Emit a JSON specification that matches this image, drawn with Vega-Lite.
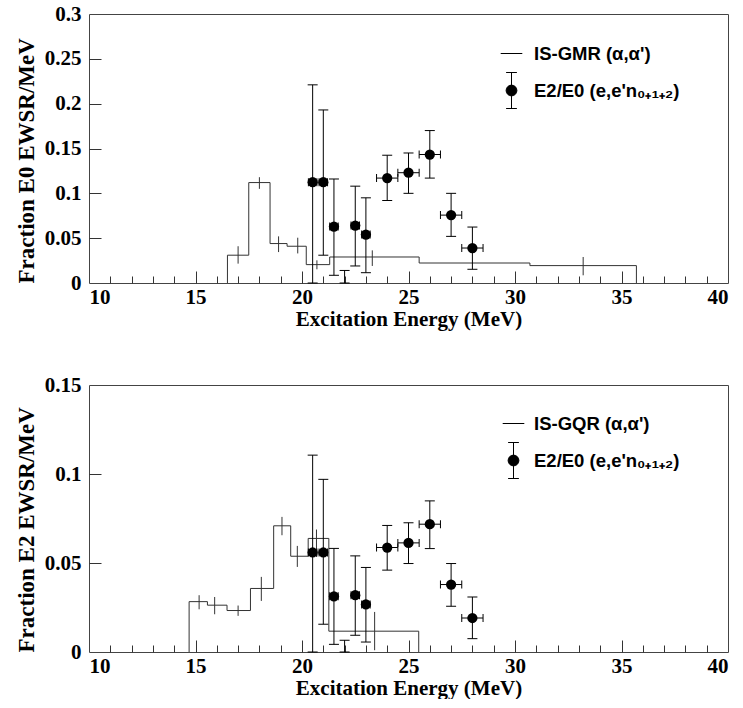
{
  "$schema": "https://vega.github.io/schema/vega-lite/v6.json",
  "autosize": {"type": "pad"},
  "padding": {"left": 14, "top": 2, "right": 0, "bottom": 0},
  "background": "white",
  "datasets": {
    "gmr_hist": [
      {"i": 0, "E": 16.5, "v": 0},
      {"i": 1, "E": 16.5, "v": 0.031},
      {"i": 2, "E": 17.5, "v": 0.112},
      {"i": 3, "E": 18.5, "v": 0.044},
      {"i": 4, "E": 19.3, "v": 0.041},
      {"i": 5, "E": 20.2, "v": 0.0205},
      {"i": 6, "E": 21.3, "v": 0.029},
      {"i": 7, "E": 25.5, "v": 0.0223},
      {"i": 8, "E": 30.7, "v": 0.0194},
      {"i": 9, "E": 35.7, "v": 0}
    ],
    "gmr_err": [
      {"E": 17.0, "lo": 0.0216, "hi": 0.041},
      {"E": 18.0, "lo": 0.105, "hi": 0.118},
      {"E": 18.9, "lo": 0.0345, "hi": 0.052},
      {"E": 19.8, "lo": 0.033, "hi": 0.0505},
      {"E": 20.7, "lo": 0.0153, "hi": 0.0253},
      {"E": 23.3, "lo": 0.019, "hi": 0.0364},
      {"E": 33.2, "lo": 0.0086, "hi": 0.029}
    ],
    "gmr_pts": [
      {"E": 20.5, "v": 0.1125, "lo": 0, "hi": 0.221, "xlo": 20.3, "xhi": 20.7},
      {"E": 21.0, "v": 0.1125, "lo": 0.031, "hi": 0.193, "xlo": 20.8, "xhi": 21.2},
      {"E": 21.5, "v": 0.063, "lo": 0.0086, "hi": 0.116, "xlo": 21.3, "xhi": 21.7},
      {"E": 22.0, "v": null, "lo": 0, "hi": 0.014, "xlo": null, "xhi": null},
      {"E": 22.5, "v": 0.064, "lo": 0.019, "hi": 0.108, "xlo": 22.3, "xhi": 22.7},
      {"E": 23.0, "v": 0.054, "lo": 0.0115, "hi": 0.095, "xlo": 22.8, "xhi": 23.2},
      {"E": 24.0, "v": 0.117, "lo": 0.092, "hi": 0.1425, "xlo": 23.5, "xhi": 24.5},
      {"E": 25.0, "v": 0.123, "lo": 0.1, "hi": 0.145, "xlo": 24.5, "xhi": 25.5},
      {"E": 26.0, "v": 0.1433, "lo": 0.117, "hi": 0.17, "xlo": 25.5, "xhi": 26.5},
      {"E": 27.0, "v": 0.0757, "lo": 0.052, "hi": 0.1, "xlo": 26.5, "xhi": 27.5},
      {"E": 28.0, "v": 0.039, "lo": 0.0153, "hi": 0.0624, "xlo": 27.5, "xhi": 28.5}
    ],
    "gqr_hist": [
      {"i": 0, "E": 14.7, "v": 0},
      {"i": 1, "E": 14.7, "v": 0.0283},
      {"i": 2, "E": 15.56, "v": 0.0263},
      {"i": 3, "E": 16.48, "v": 0.0233},
      {"i": 4, "E": 17.58, "v": 0.0357},
      {"i": 5, "E": 18.67, "v": 0.0709},
      {"i": 6, "E": 19.47, "v": 0.0538},
      {"i": 7, "E": 20.29, "v": 0.0638},
      {"i": 8, "E": 21.26, "v": 0.0117},
      {"i": 9, "E": 25.48, "v": 0}
    ],
    "gqr_err": [
      {"E": 15.17, "lo": 0.024, "hi": 0.0319},
      {"E": 15.9, "lo": 0.0212, "hi": 0.0309},
      {"E": 17.0, "lo": 0.0203, "hi": 0.0261},
      {"E": 18.09, "lo": 0.0287, "hi": 0.0422},
      {"E": 19.06, "lo": 0.0656, "hi": 0.0759},
      {"E": 19.78, "lo": 0.0478, "hi": 0.0596},
      {"E": 20.68, "lo": 0.0534, "hi": 0.0688},
      {"E": 23.41, "lo": 0.001, "hi": 0.0225}
    ],
    "gqr_pts": [
      {"E": 20.5, "v": 0.0559, "lo": 0, "hi": 0.1106, "xlo": 20.3, "xhi": 20.7},
      {"E": 21.0, "v": 0.0559, "lo": 0.0156, "hi": 0.097, "xlo": 20.8, "xhi": 21.2},
      {"E": 21.5, "v": 0.0313, "lo": 0.0043, "hi": 0.0582, "xlo": 21.3, "xhi": 21.7},
      {"E": 22.0, "v": null, "lo": 0, "hi": 0.0066, "xlo": null, "xhi": null},
      {"E": 22.5, "v": 0.0319, "lo": 0.0094, "hi": 0.054, "xlo": 22.3, "xhi": 22.7},
      {"E": 23.0, "v": 0.0267, "lo": 0.0056, "hi": 0.0475, "xlo": 22.8, "xhi": 23.2},
      {"E": 24.0, "v": 0.0587, "lo": 0.046, "hi": 0.0711, "xlo": 23.5, "xhi": 24.5},
      {"E": 25.0, "v": 0.0613, "lo": 0.0497, "hi": 0.0726, "xlo": 24.5, "xhi": 25.5},
      {"E": 26.0, "v": 0.0718, "lo": 0.0581, "hi": 0.0849, "xlo": 25.5, "xhi": 26.5},
      {"E": 27.0, "v": 0.0379, "lo": 0.0257, "hi": 0.0497, "xlo": 26.5, "xhi": 27.5},
      {"E": 28.0, "v": 0.0191, "lo": 0.0075, "hi": 0.0309, "xlo": 27.5, "xhi": 28.5}
    ],
    "leg_gmr": [{"s": "IS-GMR (α,α')"}, {"s": "E2/E0 (e,e'n₀₊₁₊₂)"}],
    "leg_gqr": [{"s": "IS-GQR (α,α')"}, {"s": "E2/E0 (e,e'n₀₊₁₊₂)"}]
  },
  "vconcat": [
    {
      "width": 639,
      "height": 269,
      "layer": [
        {
          "data": {"name": "gmr_hist"},
          "mark": {"type": "line", "interpolate": "step-after", "color": "#333", "strokeWidth": 1},
          "encoding": {
            "x": {"field": "E", "type": "quantitative", "scale": {"domain": [10, 40], "nice": false, "zero": false},
              "axis": {"orient": "bottom", "values": [10, 15, 20, 25, 30, 35, 40], "format": "d", "ticks": false, "tickSize": 0, "domain": false, "grid": false, "labelPadding": 3, "title": "Excitation Energy (MeV)", "titleFontSize": 21, "titlePadding": 1}},
            "y": {"field": "v", "type": "quantitative", "scale": {"domain": [0, 0.3], "nice": false},
              "axis": {"orient": "left", "values": [0, 0.05, 0.1, 0.15, 0.2, 0.25, 0.3], "format": ".2~f", "ticks": false, "tickSize": 0, "domain": false, "grid": false, "labelPadding": 8, "title": "Fraction E0 EWSR/MeV", "titleAnchor": "start", "titlePadding": 6}},
            "order": {"field": "i", "type": "quantitative"}
          }
        },
        {
          "data": {"name": "gmr_err"},
          "mark": {"type": "rule", "color": "#333", "strokeWidth": 1},
          "encoding": {
            "x": {"field": "E", "type": "quantitative",
              "axis": {"orient": "top", "offset": -269, "values": [15, 20, 25, 30, 35], "tickSize": 12, "labels": false, "domain": false, "grid": false, "title": null}},
            "y": {"field": "lo", "type": "quantitative",
              "axis": {"orient": "right", "offset": -639, "values": [0.05, 0.1, 0.15, 0.2, 0.25], "tickSize": 12, "labels": false, "domain": false, "grid": false, "title": null}},
            "y2": {"field": "hi"}
          }
        },
        {
          "data": {"name": "gmr_pts"},
          "mark": {"type": "rule", "color": "black", "strokeWidth": 1},
          "encoding": {
            "x": {"field": "E", "type": "quantitative",
              "axis": {"orient": "top", "offset": -269, "values": [11, 12, 13, 14, 16, 17, 18, 19, 21, 22, 23, 24, 26, 27, 28, 29, 31, 32, 33, 34, 36, 37, 38, 39], "tickSize": 7, "labels": false, "domain": false, "grid": false, "title": null}},
            "y": {"field": "lo", "type": "quantitative", "axis": null},
            "y2": {"field": "hi"}
          }
        },
        {
          "data": {"name": "gmr_pts"},
          "mark": {"type": "tick", "orient": "horizontal", "size": 10, "thickness": 1, "color": "black", "opacity": 1},
          "encoding": {
            "x": {"field": "E", "type": "quantitative", "axis": null},
            "y": {"field": "lo", "type": "quantitative", "axis": null}
          }
        },
        {
          "data": {"name": "gmr_pts"},
          "mark": {"type": "tick", "orient": "horizontal", "size": 10, "thickness": 1, "color": "black", "opacity": 1},
          "encoding": {
            "x": {"field": "E", "type": "quantitative", "axis": null},
            "y": {"field": "hi", "type": "quantitative", "axis": null}
          }
        },
        {
          "data": {"name": "gmr_pts"},
          "mark": {"type": "rule", "color": "black", "strokeWidth": 1},
          "encoding": {
            "x": {"field": "xlo", "type": "quantitative", "axis": null},
            "x2": {"field": "xhi"},
            "y": {"field": "v", "type": "quantitative", "axis": null}
          }
        },
        {
          "data": {"name": "gmr_pts"},
          "mark": {"type": "tick", "orient": "vertical", "size": 8, "thickness": 1, "color": "black", "opacity": 1},
          "encoding": {
            "x": {"field": "xlo", "type": "quantitative", "axis": null},
            "y": {"field": "v", "type": "quantitative", "axis": null}
          }
        },
        {
          "data": {"name": "gmr_pts"},
          "mark": {"type": "tick", "orient": "vertical", "size": 8, "thickness": 1, "color": "black", "opacity": 1},
          "encoding": {
            "x": {"field": "xhi", "type": "quantitative", "axis": null},
            "y": {"field": "v", "type": "quantitative", "axis": null}
          }
        },
        {
          "data": {"name": "gmr_pts"},
          "mark": {"type": "circle", "color": "black", "size": 105, "opacity": 1},
          "encoding": {
            "x": {"field": "E", "type": "quantitative", "axis": null},
            "y": {"field": "v", "type": "quantitative", "axis": null}
          }
        },
        {
          "data": {"name": "leg_gmr"},
          "transform": [{"filter": "false"}],
          "mark": {"type": "point", "filled": true, "color": "black", "stroke": "black", "strokeWidth": 1, "opacity": 1},
          "encoding": {
            "shape": {"field": "s", "type": "nominal",
              "scale": {"domain": ["IS-GMR (α,α')", "E2/E0 (e,e'n₀₊₁₊₂)"], "range": ["M-0.6,0H0.6", "M0,-1V1M-0.3,-1H0.3M-0.3,1H0.3M0.3,0A0.3,0.3,0,1,1,-0.3,0A0.3,0.3,0,1,1,0.3,0Z"]},
              "legend": {"orient": "none", "legendX": 404, "legendY": 21, "title": null, "padding": 0, "rowPadding": 7, "labelOffset": 4, "symbolSize": 1296, "symbolStrokeWidth": 1, "labelFont": "Liberation Sans", "labelFontWeight": "bold", "labelFontSize": 18.5, "labelLimit": 400, "labelColor": "black"}}
          }
        }
      ],
      "resolve": {"axis": {"x": "independent", "y": "independent"}}
    },
    {
      "width": 639,
      "height": 267,
      "layer": [
        {
          "data": {"name": "gqr_hist"},
          "mark": {"type": "line", "interpolate": "step-after", "color": "#333", "strokeWidth": 1},
          "encoding": {
            "x": {"field": "E", "type": "quantitative", "scale": {"domain": [10, 40], "nice": false, "zero": false},
              "axis": {"orient": "bottom", "values": [10, 15, 20, 25, 30, 35, 40], "format": "d", "ticks": false, "tickSize": 0, "domain": false, "grid": false, "labelPadding": 3, "title": "Excitation Energy (MeV)", "titleFontSize": 21, "titlePadding": 1}},
            "y": {"field": "v", "type": "quantitative", "scale": {"domain": [0, 0.15], "nice": false},
              "axis": {"orient": "left", "values": [0, 0.05, 0.1, 0.15], "format": ".2~f", "ticks": false, "tickSize": 0, "domain": false, "grid": false, "labelPadding": 8, "title": "Fraction E2 EWSR/MeV", "titleAnchor": "start", "titlePadding": 6}},
            "order": {"field": "i", "type": "quantitative"}
          }
        },
        {
          "data": {"name": "gqr_err"},
          "mark": {"type": "rule", "color": "#333", "strokeWidth": 1},
          "encoding": {
            "x": {"field": "E", "type": "quantitative",
              "axis": {"orient": "top", "offset": -267, "values": [15, 20, 25, 30, 35], "tickSize": 12, "labels": false, "domain": false, "grid": false, "title": null}},
            "y": {"field": "lo", "type": "quantitative",
              "axis": {"orient": "right", "offset": -639, "values": [0.05, 0.1], "tickSize": 12, "labels": false, "domain": false, "grid": false, "title": null}},
            "y2": {"field": "hi"}
          }
        },
        {
          "data": {"name": "gqr_pts"},
          "mark": {"type": "rule", "color": "black", "strokeWidth": 1},
          "encoding": {
            "x": {"field": "E", "type": "quantitative",
              "axis": {"orient": "top", "offset": -267, "values": [11, 12, 13, 14, 16, 17, 18, 19, 21, 22, 23, 24, 26, 27, 28, 29, 31, 32, 33, 34, 36, 37, 38, 39], "tickSize": 7, "labels": false, "domain": false, "grid": false, "title": null}},
            "y": {"field": "lo", "type": "quantitative", "axis": null},
            "y2": {"field": "hi"}
          }
        },
        {
          "data": {"name": "gqr_pts"},
          "mark": {"type": "tick", "orient": "horizontal", "size": 10, "thickness": 1, "color": "black", "opacity": 1},
          "encoding": {
            "x": {"field": "E", "type": "quantitative", "axis": null},
            "y": {"field": "lo", "type": "quantitative", "axis": null}
          }
        },
        {
          "data": {"name": "gqr_pts"},
          "mark": {"type": "tick", "orient": "horizontal", "size": 10, "thickness": 1, "color": "black", "opacity": 1},
          "encoding": {
            "x": {"field": "E", "type": "quantitative", "axis": null},
            "y": {"field": "hi", "type": "quantitative", "axis": null}
          }
        },
        {
          "data": {"name": "gqr_pts"},
          "mark": {"type": "rule", "color": "black", "strokeWidth": 1},
          "encoding": {
            "x": {"field": "xlo", "type": "quantitative", "axis": null},
            "x2": {"field": "xhi"},
            "y": {"field": "v", "type": "quantitative", "axis": null}
          }
        },
        {
          "data": {"name": "gqr_pts"},
          "mark": {"type": "tick", "orient": "vertical", "size": 8, "thickness": 1, "color": "black", "opacity": 1},
          "encoding": {
            "x": {"field": "xlo", "type": "quantitative", "axis": null},
            "y": {"field": "v", "type": "quantitative", "axis": null}
          }
        },
        {
          "data": {"name": "gqr_pts"},
          "mark": {"type": "tick", "orient": "vertical", "size": 8, "thickness": 1, "color": "black", "opacity": 1},
          "encoding": {
            "x": {"field": "xhi", "type": "quantitative", "axis": null},
            "y": {"field": "v", "type": "quantitative", "axis": null}
          }
        },
        {
          "data": {"name": "gqr_pts"},
          "mark": {"type": "circle", "color": "black", "size": 105, "opacity": 1},
          "encoding": {
            "x": {"field": "E", "type": "quantitative", "axis": null},
            "y": {"field": "v", "type": "quantitative", "axis": null}
          }
        },
        {
          "data": {"name": "leg_gqr"},
          "transform": [{"filter": "false"}],
          "mark": {"type": "point", "filled": true, "color": "black", "stroke": "black", "strokeWidth": 1, "opacity": 1},
          "encoding": {
            "shape": {"field": "s", "type": "nominal",
              "scale": {"domain": ["IS-GQR (α,α')", "E2/E0 (e,e'n₀₊₁₊₂)"], "range": ["M-0.6,0H0.6", "M0,-1V1M-0.3,-1H0.3M-0.3,1H0.3M0.3,0A0.3,0.3,0,1,1,-0.3,0A0.3,0.3,0,1,1,0.3,0Z"]},
              "legend": {"orient": "none", "legendX": 406, "legendY": 20, "title": null, "padding": 0, "rowPadding": 7, "labelOffset": 2, "symbolSize": 1296, "symbolStrokeWidth": 1, "labelFont": "Liberation Sans", "labelFontWeight": "bold", "labelFontSize": 18.5, "labelLimit": 400, "labelColor": "black"}}
          }
        }
      ],
      "resolve": {"axis": {"x": "independent", "y": "independent"}}
    }
  ],
  "spacing": 102,
  "bounds": "flush",
  "resolve": {"scale": {"shape": "independent"}, "legend": {"shape": "independent"}},
  "config": {
    "view": {"stroke": "#444", "strokeWidth": 1},
    "axis": {"labelFont": "Liberation Serif", "labelFontWeight": "bold", "labelFontSize": 21, "labelColor": "black", "titleFont": "Liberation Serif", "titleFontWeight": "bold", "titleFontSize": 23, "titleColor": "black", "tickColor": "#333", "tickWidth": 1}
  }
}
